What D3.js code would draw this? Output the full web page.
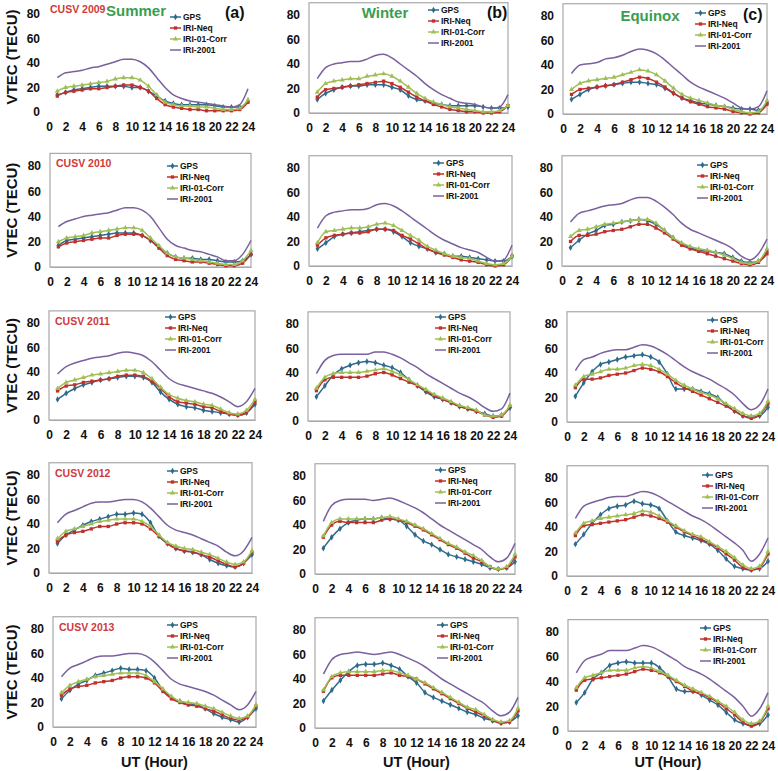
<!DOCTYPE html>
<html><head><meta charset="utf-8">
<script src="https://cdn.jsdelivr.net/npm/d3@7"></script>
<style>body{margin:0;background:#fff;} svg{display:block;font-family:Arial,"Liberation Sans",sans-serif;}</style>
</head><body><svg id="chart" width="778" height="771"></svg>
<script>
// ---------- data ----------
const hours = [1,2,3,4,5,6,7,8,9,10,11,12,13,14,15,16,17,18,19,20,21,22,23,24];
const xTicks = [0,2,4,6,8,10,12,14,16,18,20,22,24];
const yTicks = [0,20,40,60,80];
const years = ["2009","2010","2011","2012","2013"];
const seasons = ["Summer","Winter","Equinox"];
const panelLetters = ["(a)","(b)","(c)"];
const seriesNames = ["GPS","IRI-Neq","IRI-01-Corr","IRI-2001"];

// panels in order: 2009 Summer, 2009 Winter, 2009 Equinox, 2010 Summer, ...
const gpsData = [
 [14,16,18,19,20,21,21,21,21,20,20,17,13,9,7,6,6,6,6,5,4,4,4,9],
 [11,16,19,21,22,22,23,23,23,21,19,14,11,10,8,7,6,6,6,6,5,4,4,5],
 [12,16,20,22,23,24,25,26,26,25,24,21,17,13,11,9,8,7,6,5,4,4,3,9],
 [17,21,22,23,24,25,26,27,27,27,25,21,16,11,8,7,7,6,6,5,4,4,5,10],
 [14,19,24,26,27,28,29,30,30,28,24,19,16,14,11,10,8,8,7,6,5,4,4,8],
 [15,21,26,29,33,34,36,37,38,37,34,29,23,18,15,13,12,11,10,7,4,3,4,12],
 [17,22,26,29,31,33,34,35,36,36,35,31,23,17,13,11,10,8,7,6,5,4,6,13],
 [20,29,38,43,46,48,49,48,46,44,40,34,29,24,20,18,15,12,10,8,6,4,5,11],
 [21,32,41,47,49,51,53,54,55,53,49,39,27,27,27,25,23,20,14,9,5,4,5,12],
 [24,31,35,39,42,44,46,48,48,49,48,41,30,24,20,18,17,15,11,8,6,5,8,15],
 [21,30,37,42,44,45,45,46,45,44,39,32,27,24,20,16,14,12,10,8,5,4,5,10],
 [26,34,43,50,55,57,58,61,59,58,55,45,36,33,31,29,26,21,14,8,6,5,6,12],
 [23,30,35,38,42,44,46,48,47,47,46,40,30,24,21,19,18,15,11,8,6,4,8,15],
 [22,31,39,46,51,52,52,53,51,48,42,37,29,25,22,19,16,13,11,8,6,4,5,10],
 [23,31,42,47,53,55,56,55,55,55,51,44,34,32,32,29,25,21,15,9,6,5,6,13]
];
const iriNeqData = [
 [13,16,17,18,19,19,20,21,22,22,20,17,11,6,4,3,2,2,1,1,1,1,2,8],
 [13,19,20,21,22,23,24,25,26,24,21,17,13,10,7,5,3,2,1,1,0,0,1,6],
 [16,20,21,22,23,24,26,28,30,29,26,22,17,13,10,8,6,5,4,2,1,0,1,8],
 [16,19,20,21,22,23,23,25,26,26,25,21,15,9,6,5,4,4,3,2,1,1,3,10],
 [17,23,25,26,27,27,28,30,30,29,25,22,18,14,11,9,7,5,4,3,1,0,1,8],
 [20,25,25,26,28,29,30,32,34,34,31,27,22,17,14,12,10,8,6,4,2,1,3,10],
 [24,28,29,31,32,33,34,36,37,37,36,32,26,19,15,14,13,11,10,7,5,4,6,15],
 [25,34,36,36,36,36,37,39,40,38,35,32,29,25,21,18,15,12,10,8,5,3,4,12],
 [28,35,35,36,38,39,40,42,44,43,41,37,32,28,25,22,19,16,13,9,5,3,6,15],
 [26,31,33,34,36,38,38,40,41,41,40,36,30,24,20,18,17,15,13,10,7,5,8,17],
 [30,40,43,42,42,42,42,44,45,44,42,39,36,32,28,24,21,17,13,10,6,4,5,14],
 [33,41,42,43,44,45,46,48,50,49,47,44,40,36,33,30,27,23,18,13,7,5,7,18],
 [26,31,33,34,36,37,38,40,41,41,40,36,29,23,20,18,17,15,13,10,7,6,8,17],
 [30,41,43,43,43,43,43,44,45,43,42,40,36,32,28,24,20,16,13,10,6,4,5,14],
 [33,41,42,43,44,45,46,48,50,49,47,44,40,36,32,30,27,23,18,13,7,4,7,18]
];
const iriCorrData = [
 [17,20,21,22,23,24,25,27,28,28,26,21,14,8,6,5,5,4,4,3,2,2,3,10],
 [17,24,26,27,28,28,30,31,32,30,26,21,16,12,9,7,5,4,3,2,1,1,2,6],
 [20,25,27,28,29,30,32,34,36,35,32,27,21,16,13,11,9,7,6,4,2,1,2,11],
 [20,23,24,25,27,28,29,30,31,31,29,23,17,11,8,7,6,5,4,3,2,2,5,13],
 [19,28,29,30,31,31,32,34,35,33,29,25,21,16,13,10,8,7,6,4,2,1,2,8],
 [24,29,30,32,34,35,36,37,38,38,35,29,23,19,16,14,13,11,9,6,3,2,4,14],
 [26,31,33,35,37,38,39,40,41,41,39,34,27,21,18,16,15,13,12,9,6,5,8,17],
 [27,36,39,40,40,40,41,42,43,41,38,34,30,26,22,19,16,13,11,9,5,4,5,13],
 [30,37,39,41,43,43,44,46,47,46,43,39,34,30,27,24,22,19,15,11,7,5,7,17],
 [28,34,36,38,40,42,43,44,44,44,42,38,31,25,22,20,19,17,15,12,9,7,9,18],
 [31,42,45,45,45,45,45,46,47,45,43,40,37,33,29,25,22,18,15,11,6,4,6,16],
 [35,43,45,47,48,49,50,51,53,52,49,45,41,37,34,32,28,24,20,15,9,6,8,20],
 [28,34,37,39,41,42,43,44,44,44,42,37,31,25,21,20,19,17,15,12,9,7,9,18],
 [31,42,45,46,46,46,46,47,47,45,43,40,37,33,29,25,21,17,15,11,7,5,6,16],
 [35,43,45,47,49,49,49,51,52,51,48,45,41,37,34,31,28,24,20,15,9,6,8,20]
];
const iri2001Data = [
 [28,32,33,34,36,37,39,41,43,43,41,36,28,20,14,11,9,8,7,6,5,4,6,19],
 [28,37,40,41,42,42,44,47,48,45,40,35,30,24,19,15,12,9,8,7,5,4,5,15],
 [33,40,41,42,45,46,48,51,53,52,49,44,38,32,26,22,19,16,13,9,5,4,6,19],
 [32,36,38,40,41,42,43,45,47,47,45,40,31,22,17,15,13,12,10,8,5,5,10,21],
 [31,41,44,45,46,46,47,50,51,49,45,40,35,30,25,21,18,15,13,11,7,4,5,17],
 [36,43,45,47,49,50,51,54,56,56,53,48,42,35,30,27,24,21,18,14,8,5,10,22],
 [38,44,47,49,51,52,53,55,56,55,53,48,41,34,30,28,26,24,22,19,15,11,15,26],
 [39,50,54,55,55,55,55,57,57,55,52,48,44,39,35,31,27,23,20,16,11,8,10,23],
 [42,51,53,56,58,59,59,61,63,62,59,55,50,45,41,38,35,31,27,22,15,10,14,27],
 [41,48,51,54,57,58,58,59,60,60,58,53,46,39,35,33,31,28,25,22,17,14,18,29],
 [43,56,60,61,61,61,60,61,62,60,57,54,50,45,40,36,32,28,24,20,14,10,13,25],
 [47,57,60,62,64,65,65,67,69,68,65,61,57,53,49,46,42,37,32,27,21,12,18,31],
 [41,48,51,54,57,58,58,59,60,60,58,53,46,39,35,33,31,29,26,22,18,14,18,29],
 [44,56,60,61,62,61,60,61,62,60,57,54,50,45,40,36,32,28,24,20,14,10,13,25],
 [47,57,60,62,65,65,65,67,69,68,65,61,57,52,49,46,42,37,32,27,20,12,18,31]
];

// ---------- layout (pixel geometry of each panel: x at 0h, x at 24h, y at 0, y at 80, legend x, legend y) ----------
const panelBoxes = [
 [49,248,112,14, 170,17],[309,508,113,15, 428,10],[563,767,114,16, 695,13],
 [50,251,267,166, 167,166],[309,512,266,168, 433,163],[562,767,266,168, 697,165],
 [49,255,420,323, 165,317],[308,510,421,324, 435,317],[567,768,422,324, 707,320],
 [49,252,573,475, 167,471],[315,515,574,476, 435,470],[567,768,576,478, 702,475],
 [53,256,727,629, 167,625],[315,518,728,630, 437,625],[568,768,731,632, 700,628]
];
const seriesStyle = [
 {color:"#2e6a8c", symbol:d3.symbolDiamond, size:12},
 {color:"#c0302c", symbol:d3.symbolSquare, size:11},
 {color:"#9fbf55", symbol:d3.symbolTriangle, size:11},
 {color:"#7a609e", symbol:null, size:0}
];
const allSeries = [gpsData, iriNeqData, iriCorrData, iri2001Data];

const svg = d3.select("#chart");
svg.append("rect").attr("width",778).attr("height",771).attr("fill","#fff");

panelBoxes.forEach((b, i) => {
  const row = Math.floor(i/3), col = i%3;
  const [x0,x24,y0,y80,lx,ly] = b;
  const x = d3.scaleLinear().domain([0,24]).range([x0,x24]);
  const y = d3.scaleLinear().domain([0,80]).range([y0,y80]);
  const g = svg.append("g");
  if (i !== 0) {
    g.append("rect").attr("x",x(0)).attr("y",y(90)).attr("width",x(24)-x(0)).attr("height",y(0)-y(90))
      .attr("fill","none").attr("stroke","#a8a8a8").attr("stroke-width",1.2);
  }
  // axes
  const xa = g.append("g").attr("transform",`translate(0,${y0})`)
    .call(d3.axisBottom(x).tickValues(xTicks).tickSize(0).tickPadding(10));
  xa.select(".domain").attr("stroke", i===0 ? "none" : "#a8a8a8");
  xa.selectAll("text").attr("font-size",12).attr("font-weight","bold").attr("fill","#111").attr("font-family","Arial, 'Liberation Sans', sans-serif");
  const ya = g.append("g").attr("transform",`translate(${x0},0)`)
    .call(d3.axisLeft(y).tickValues(yTicks).tickSize(0).tickPadding(9));
  ya.select(".domain").remove();
  ya.selectAll("text").attr("font-size",12).attr("font-weight","bold").attr("fill","#111").attr("font-family","Arial, 'Liberation Sans', sans-serif");

  // series
  const line = d3.line().x((d,k)=>x(hours[k])).y(d=>y(d)).curve(d3.curveMonotoneX);
  allSeries.forEach((arr, s) => {
    const vals = arr[i];
    const st = seriesStyle[s];
    g.append("path").attr("d", line(vals)).attr("fill","none").attr("stroke",st.color).attr("stroke-width",1.5);
    if (st.symbol) {
      g.selectAll(null).data(vals).enter().append("path")
        .attr("d", d3.symbol().type(st.symbol).size(st.size))
        .attr("transform",(d,k)=>`translate(${x(hours[k])},${y(d)})`)
        .attr("fill",st.color);
    }
  });

  // legend
  seriesNames.forEach((nm, s) => {
    const st = seriesStyle[s];
    const yy = ly + s*11;
    g.append("line").attr("x1",lx).attr("x2",lx+11).attr("y1",yy).attr("y2",yy).attr("stroke",st.color).attr("stroke-width",1.5);
    if (st.symbol) g.append("path").attr("d",d3.symbol().type(st.symbol).size(st.size)).attr("transform",`translate(${lx+5.5},${yy})`).attr("fill",st.color);
    g.append("text").attr("x",lx+13).attr("y",yy).attr("dy","0.35em").attr("font-size",8.5).attr("font-weight","bold").attr("fill","#111").text(nm);
  });

  // y label
  if (col === 0) {
    const cy = (y(0)+y(90))/2;
    svg.append("text").attr("transform",`translate(17,${cy}) rotate(-90)`).attr("text-anchor","middle")
      .attr("font-size",15).attr("font-weight","bold").attr("fill","#111").text("VTEC (TECU)");
    svg.append("text").attr("x", x0 + (row===0 ? 1 : 6)).attr("y", row===0 ? 13 : y(90)+14)
      .attr("font-size",10.5).attr("font-weight","bold").attr("fill","#cf3a3a").text("CUSV " + years[row]);
  }
  if (row === 4) {
    svg.append("text").attr("x",(x0+x24)/2).attr("y",767).attr("text-anchor","middle")
      .attr("font-size",14.5).attr("font-weight","bold").attr("fill","#111").text("UT (Hour)");
  }
  if (row === 0) {
    const sx = [106, 385, 650][col];
    const sy = [15.5, 18, 21][col];
    svg.append("text").attr("x",sx).attr("y",sy).attr("text-anchor", col===0 ? "start" : "middle")
      .attr("font-size",15).attr("font-weight","bold").attr("fill","#3a9e4e").text(seasons[col]);
    svg.append("text").attr("x",[225,487,743][col]).attr("y",[18,18,20][col])
      .attr("font-size",16).attr("font-weight","bold").attr("fill","#111").text(panelLetters[col]);
  }
});
</script></body></html>
